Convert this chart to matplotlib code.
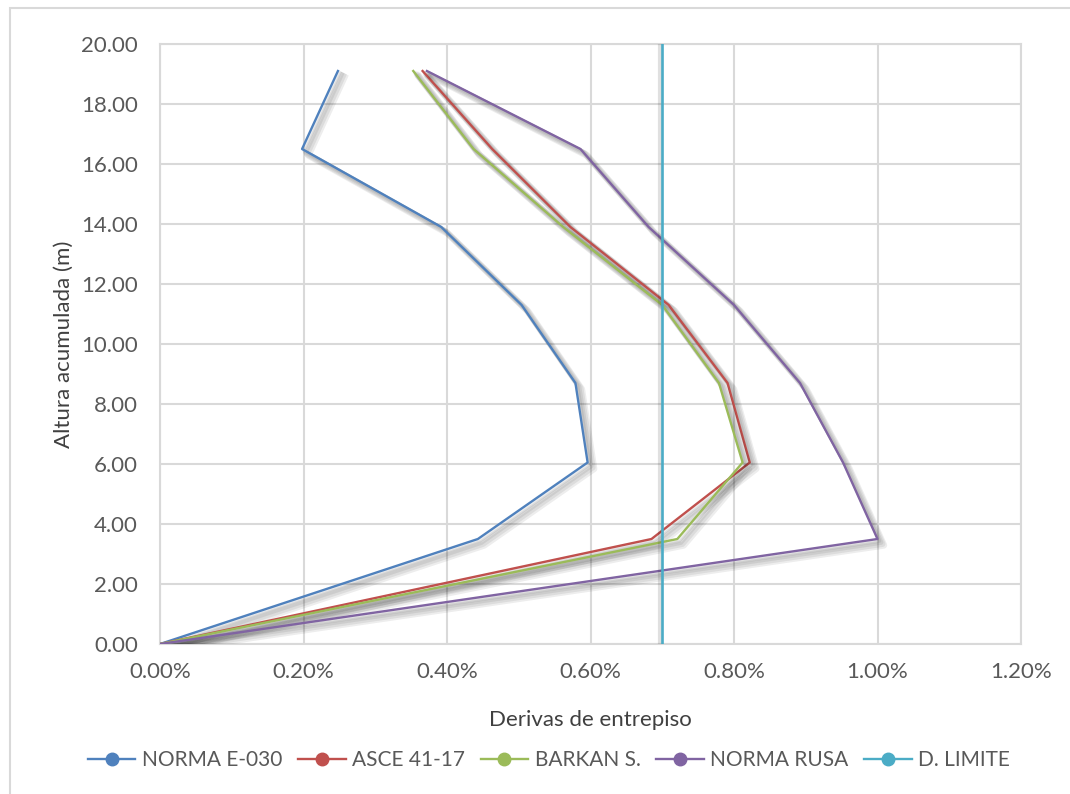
import matplotlib
matplotlib.use("Agg")
import matplotlib.pyplot as plt
import matplotlib.patheffects as pe
from matplotlib.patches import Rectangle
from matplotlib.ticker import FuncFormatter, MultipleLocator
from matplotlib.lines import Line2D

plt.rcParams['font.family'] = ['Lato', 'DejaVu Sans']

# Cumulative storey heights (m)
heights = [0.0, 3.5, 6.05, 8.7, 11.3, 13.9, 16.5, 19.1]

# Interstorey drifts (fraction)
norma_e030 = [0.0, 0.00443, 0.00596, 0.00579, 0.00504, 0.00392, 0.00198, 0.00248]
asce_41_17 = [0.0, 0.00685, 0.00822, 0.00791, 0.00709, 0.00572, 0.00463, 0.00366]
barkan_s = [0.0, 0.00721, 0.00812, 0.00779, 0.00700, 0.00562, 0.00437, 0.00353]
norma_rusa = [0.0, 0.01000, 0.00952, 0.00892, 0.00800, 0.00681, 0.00586, 0.00372]
drift_limit = 0.007

series_names = ["NORMA E-030", "ASCE 41-17", "BARKAN S.", "NORMA RUSA", "D. LIMITE"]
colors = ["#4F81BD", "#C0504D", "#9BBB59", "#8064A2", "#4BACC6"]

fig = plt.figure(figsize=(10.7, 7.94), dpi=100)
W, H = 1070, 794
ax = fig.add_axes([160 / W, (H - 644) / H, (1021 - 160) / W, 600 / H])

# Chart frame
fig.patches.append(Rectangle((10 / W, -0.05), 1.1, 1 - 8 / H + 0.05,
                             transform=fig.transFigure, fill=False,
                             edgecolor="#D9D9D9", linewidth=1.5, zorder=0))

# Soft drop shadow built from several faint offset strokes
shadow = [pe.SimpleLineShadow(offset=(d, -d), shadow_color="#000000", alpha=0.07, linewidth=w)
          for d, w in [(1.5, 2.5), (2.5, 3.5), (3.5, 4.5), (4.5, 5.0)]] + [pe.Normal()]

for vals, c in zip([norma_e030, asce_41_17, barkan_s, norma_rusa], colors[:4]):
    ax.plot(vals, heights, color=c, linewidth=1.7, path_effects=shadow, zorder=3)

ax.plot([drift_limit, drift_limit], [0, 20], color=colors[4], linewidth=1.9,
        path_effects=[pe.SimpleLineShadow(offset=(-1.5, 0), alpha=0.12, linewidth=3),
                      pe.Normal()], zorder=3)

ax.set_xlim(0, 0.012)
ax.set_ylim(0, 20)
ax.xaxis.set_major_locator(MultipleLocator(0.002))
ax.yaxis.set_major_locator(MultipleLocator(2))
ax.xaxis.set_major_formatter(FuncFormatter(lambda v, p: f"{v * 100:.2f}%"))
ax.yaxis.set_major_formatter(FuncFormatter(lambda v, p: f"{v:.2f}"))

ax.grid(True, color="#D9D9D9", linewidth=1.5, zorder=0)
ax.set_axisbelow(True)
for s in ax.spines.values():
    s.set_color("#D9D9D9")
    s.set_linewidth(1.5)
ax.tick_params(length=0, labelsize=16, labelcolor="#595959")
ax.tick_params(axis="y", pad=16)
ax.tick_params(axis="x", pad=13)

ax.set_xlabel("Derivas de entrepiso", fontsize=16, color="#404040", labelpad=20)
ax.set_ylabel("Altura acumulada (m)", fontsize=16, color="#404040", labelpad=5)

handles = [Line2D([0], [0], color=c, linewidth=1.7, marker="o", markersize=9,
                  markerfacecolor=c, markeredgecolor=c) for c in colors]
fig.legend(handles, series_names, loc="center", bbox_to_anchor=(0.513, (H - 760) / H),
           ncol=5, frameon=False, fontsize=15, labelcolor="#595959",
           handlelength=2.3, handletextpad=0.3, columnspacing=0.75)

fig.savefig("out.png", dpi=100)
